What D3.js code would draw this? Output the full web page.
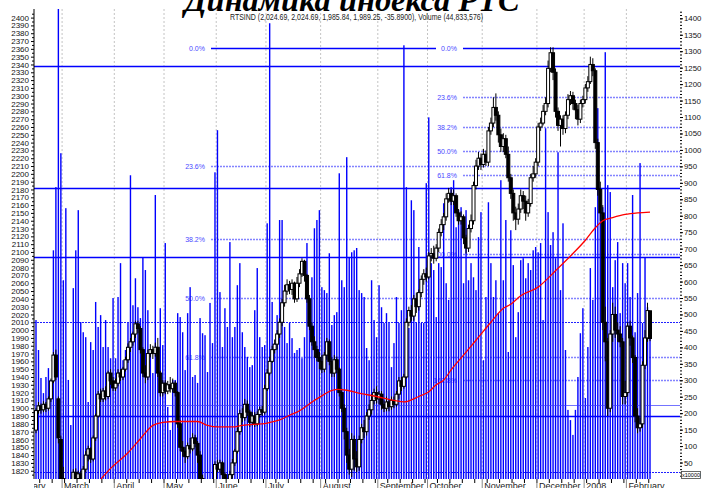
<!DOCTYPE html>
<html>
<head>
<meta charset="utf-8">
<script src="https://cdn.jsdelivr.net/npm/d3@7"></script>
<style>
  body { margin: 0; background: #fff; }
  svg { display: block; font-family: Arial, "Liberation Sans", sans-serif; }
</style>
</head>
<body>
<div class="layout"></div>
<script>
// daily RTSIND candles, Feb 2007 - Feb 2008
var opens = [
  1872,1897,1903,1898,1905,1900,1912,1935,1968,1912,
  1860,1810,1780,1760,1775,1790,1818,1810,1816,1805,
  1822,1840,1848,1835,1862,1890,1918,1912,1922,1915,
  1945,1935,1926,1932,1945,1940,1950,1962,1978,1985,
  1995,2008,2002,1975,1945,1940,1970,1975,1970,1978,
  1945,1920,1932,1922,1930,1925,1932,1920,1880,1850,
  1845,1838,1852,1848,1862,1855,1840,1810,1795,1790,
  1800,1795,1805,1828,1822,1830,1815,1800,1805,1815,
  1830,1845,1870,1893,1888,1905,1895,1882,1890,1880,
  1892,1898,1895,1925,1945,1960,1975,1982,1995,2010,
  2035,2050,2058,2052,2060,2040,2060,2072,2088,2070,
  2040,2005,1985,1975,1965,1960,1950,1968,1985,1960,
  1945,1962,1950,1920,1900,1870,1840,1822,1860,1835,
  1825,1860,1875,1870,1890,1898,1910,1920,1912,1918,
  1905,1900,1908,1902,1910,1905,1918,1935,1928,1940,
  2010,2025,2018,2040,2030,2048,2065,2072,2068,2095,
  2098,2092,2105,2125,2135,2145,2168,2175,2165,2172,
  2150,2140,2145,2118,2105,2130,2140,2185,2210,2220,
  2212,2225,2215,2255,2265,2285,2275,2250,2235,2245,
  2225,2195,2175,2150,2142,2155,2172,2165,2150,2162,
  2195,2200,2215,2260,2265,2280,2290,2335,2355,2330,
  2280,2262,2270,2258,2275,2295,2300,2290,2282,2270,
  2290,2295,2310,2318,2340,2332,2240,2180,2150,2010,
  1985,1900,1995,2020,2000,1995,1985,1915,1920,2005,
  1990,1965,1890,1875,1880,1955,1990,2024.69
];
var highs = [
  1900,1908,1906,1909,1908,1915,1938,1972,1975,1915,
  1865,1825,1790,1785,1800,1822,1823,1820,1820,1826,
  1845,1852,1850,1865,1893,1922,1925,1926,1928,1948,
  1950,1940,1938,1950,1950,1953,1966,1983,1990,1998,
  2012,2012,2005,1978,1955,1975,1982,1980,1984,1990,
  1948,1936,1936,1935,1940,1938,1935,1922,1885,1858,
  1850,1856,1862,1868,1866,1858,1845,1815,1800,1806,
  1805,1810,1832,1834,1834,1832,1818,1810,1820,1835,
  1848,1875,1898,1900,1912,1910,1898,1895,1895,1896,
  1902,1903,1930,1950,1966,1980,1988,2000,2015,2040,
  2058,2065,2063,2065,2062,2068,2078,2092,2090,2072,
  2045,2010,1992,1980,1972,1968,1972,1990,1988,1965,
  1968,1966,1952,1925,1905,1875,1848,1868,1865,1845,
  1865,1880,1885,1895,1905,1918,1925,1928,1922,1922,
  1910,1915,1912,1915,1915,1922,1940,1940,1944,2015,
  2030,2032,2045,2048,2052,2070,2078,2080,2100,2105,
  2108,2110,2130,2142,2150,2175,2182,2180,2180,2175,
  2155,2152,2148,2122,2135,2148,2190,2218,2228,2226,
  2232,2230,2260,2272,2298,2303,2280,2258,2252,2250,
  2235,2200,2180,2158,2162,2180,2178,2172,2168,2200,
  2210,2220,2265,2272,2288,2298,2345,2362,2362,2335,
  2285,2275,2275,2280,2302,2306,2305,2295,2288,2295,
  2300,2315,2325,2350,2348,2335,2245,2190,2160,2030,
  1990,2000,2035,2030,2010,2005,1990,1935,2010,2012,
  1993,1968,1900,1888,1960,2000,2035,2024.69
];
var lows = [
  1868,1893,1893,1895,1895,1897,1908,1932,1936,1855,
  1800,1770,1740,1750,1765,1785,1800,1802,1795,1800,
  1818,1832,1830,1832,1858,1888,1908,1908,1910,1912,
  1930,1922,1922,1928,1935,1936,1947,1958,1972,1980,
  1990,1996,1970,1940,1932,1936,1965,1963,1966,1940,
  1915,1915,1918,1918,1920,1920,1915,1875,1845,1838,
  1830,1835,1842,1845,1850,1830,1805,1788,1780,1785,
  1788,1790,1802,1818,1818,1808,1795,1792,1800,1810,
  1826,1842,1866,1882,1884,1890,1876,1878,1876,1877,
  1888,1890,1892,1922,1942,1958,1970,1975,1990,2005,
  2030,2045,2046,2045,2035,2036,2055,2068,2062,2035,
  2000,1980,1965,1960,1950,1945,1946,1962,1955,1940,
  1940,1945,1915,1895,1860,1830,1815,1812,1820,1818,
  1820,1855,1862,1865,1885,1892,1905,1906,1905,1898,
  1895,1896,1896,1898,1900,1902,1912,1922,1925,1938,
  2005,2012,2012,2022,2025,2042,2058,2062,2065,2088,
  2085,2088,2100,2120,2128,2140,2163,2160,2160,2145,
  2135,2135,2110,2098,2100,2125,2135,2180,2205,2205,
  2208,2210,2210,2250,2260,2268,2240,2228,2228,2220,
  2190,2168,2140,2128,2135,2150,2155,2140,2145,2158,
  2190,2195,2210,2255,2262,2275,2285,2330,2320,2272,
  2255,2235,2250,2252,2270,2288,2282,2270,2262,2265,
  2285,2290,2305,2315,2325,2232,2172,2140,2000,1960,
  1890,1895,1985,1990,1985,1978,1905,1905,1915,1980,
  1958,1882,1868,1870,1875,1950,1985,1985.84
];
var closes = [
  1897,1903,1898,1905,1900,1912,1935,1968,1940,1862,
  1810,1780,1760,1775,1790,1818,1810,1816,1805,1822,
  1840,1848,1835,1862,1890,1918,1912,1922,1915,1945,
  1935,1926,1932,1945,1940,1950,1962,1978,1985,1995,
  2008,2002,1975,1945,1940,1970,1975,1970,1978,1945,
  1920,1932,1922,1930,1925,1932,1920,1880,1850,1845,
  1838,1852,1848,1862,1855,1840,1810,1795,1790,1800,
  1795,1805,1828,1822,1830,1815,1800,1805,1815,1830,
  1845,1870,1893,1888,1905,1895,1882,1890,1880,1892,
  1898,1895,1925,1945,1960,1975,1982,1995,2010,2035,
  2050,2058,2052,2060,2040,2060,2072,2088,2070,2040,
  2005,1985,1975,1965,1960,1950,1968,1985,1960,1945,
  1962,1950,1920,1900,1870,1840,1822,1860,1835,1825,
  1860,1875,1870,1890,1898,1910,1920,1912,1918,1905,
  1900,1908,1902,1910,1905,1918,1935,1928,1940,2010,
  2025,2018,2040,2030,2048,2065,2072,2068,2095,2098,
  2092,2105,2125,2135,2145,2168,2175,2165,2172,2150,
  2140,2145,2118,2105,2130,2140,2185,2210,2220,2212,
  2225,2215,2255,2265,2285,2275,2250,2235,2245,2225,
  2195,2175,2150,2142,2155,2172,2165,2150,2162,2195,
  2200,2215,2260,2265,2280,2290,2335,2355,2330,2280,
  2262,2270,2258,2275,2295,2300,2290,2282,2270,2290,
  2295,2310,2318,2340,2332,2240,2180,2150,2010,1985,
  1900,1995,2020,2000,1995,1985,1915,1920,2005,1990,
  1965,1890,1875,1880,1955,1990,2025,1989.25
];
// volume, x10000
var volumes = [
  483,392,307,261,310,337,301,695,887,1430,990,604,823,301,164,580,695,817,477,446,
  431,234,416,392,538,462,498,401,483,401,367,550,367,553,656,361,392,474,923,528,
  610,522,489,674,635,513,392,322,863,401,519,407,717,219,149,301,301,504,492,446,
  331,504,583,310,316,
  292,489,443,437,325,535,413,932,1060,568,401,519,462,720,431,462,589,656,446,401,
  371,340,346,513,641,431,401,407,777,1385,538,413,498,787,787,462,413,474,428,383,
  392,398,367,431,717,474,613,762,787,817,583,574,565,686,468,498,507,929,604,583,
  978,674,689,
  695,702,574,565,553,398,361,604,483,431,589,522,474,504,474,340,413,553,474,513,
  1318,887,459,847,817,474,705,474,474,899,1099,656,635,492,656,644,838,595,544,887,
  908,765,817,826,595,817,604,656,613,574,735,811,361,553,841,656,553,604,504,908,
  604,787,
  386,756,650,431,507,665,671,610,656,635,695,705,689,717,483,1066,811,711,750,671,
  993,574,777,392,210,179,134,210,310,443,519,246,401,641,544,826,1127,869,826,1297,
  893,872,583,665,720,504,656,595,656,553,863,446,565,960,474,674,522,483
];
// red average line: day index and value
var maDays   = [22,26,30,37,42,47,51,56,65,69,73,79,83,93,98,102,105,113,121,125,129,137,144,148,
                154,158,161,164,167,172,177,183,188,191,195,202,209,216,221,225,228,232,237,242,247];
var maValues = [1795,1809,1823,1843,1861,1878,1882,1883,1883,1878,1876,1876,1878,1881,1885,1891,1895,1912,1924,1923,1920,1915,1910,1908,
                1915,1921,1930,1936,1949,1968,1987,2010,2028,2033,2044,2055,2076,2098,2115,2131,2140,2144,2148,2150,2151];

var monthNames  = ["February","March","April","May","June","July","August","September","October","November","December","2008","February"];
var monthStarts = [-11, 11, 32, 52, 73, 93, 115, 138, 158, 180, 202, 221, 238];

var fibHigh = 2360.6;
var fib1Low = 1722, fib2Low = 2098;
var fib1Levels = [0, 23.6, 38.2, 50, 61.8];
var fib2Levels = [0, 23.6, 38.2, 50, 61.8, 100, 161.8];

var solidLevels  = [2337.6, 2182, 2093.7, 1890];
var dottedLevels = [2010.7, 1818];
var lightLevels  = [1904];

var title = "Динамика индекса РТС";
var info = "RTSIND (2,024.69, 2,024.69, 1,985.84, 1,989.25, -35.8900), Volume (44,833,576)";

var W = 702, H = 488;
var plot = {left: 34, right: 680, top: 9, bottom: 479};
var N = closes.length;

var x = d3.scaleLinear().domain([0, N - 1]).range([36, 650]);
var y = d3.scaleLinear().domain([1809.4, 2411]).range([plot.bottom, plot.top]);
var yVol = d3.scaleLinear().domain([0, 1400]).range([plot.bottom, 18.3]);

var svg = d3.select(".layout").append("svg")
        .attr("width", W)
        .attr("height", H);

svg.append("rect").attr("width", W).attr("height", H).attr("fill", "#fff");

var defs = svg.append("defs");
defs.append("clipPath").attr("id", "plotclip")
    .append("rect")
        .attr("x", plot.left).attr("y", plot.top)
        .attr("width", plot.right - plot.left).attr("height", plot.bottom - plot.top);
defs.append("clipPath").attr("id", "xlabclip")
    .append("rect")
        .attr("x", plot.left).attr("y", plot.bottom)
        .attr("width", W - plot.left).attr("height", H - plot.bottom);

var body = svg.append("g").attr("clip-path", "url(#plotclip)");

// month grid
body.append("g").selectAll("line")
    .data(monthStarts.slice(1))
  .enter().append("line")
    .attr("x1", function(d) { return x(d - 0.5); })
    .attr("x2", function(d) { return x(d - 0.5); })
    .attr("y1", plot.top).attr("y2", plot.bottom)
    .attr("stroke", "#c4c4c4")
    .attr("stroke-dasharray", "2,2");

// fibonacci levels
function fibGroup(levels, low, labelRight, lineEnd0) {
    var g = body.append("g");
    levels.forEach(function(p) {
        var v = fibHigh - p / 100 * (fibHigh - low);
        var yy = Math.round(y(v)) + 0.5;
        g.append("line")
            .attr("x1", labelRight + 6)
            .attr("x2", p === 0 ? lineEnd0 : plot.right)
            .attr("y1", yy).attr("y2", yy)
            .attr("stroke", p === 0 ? "#0000ff" : "#5a5aff")
            .attr("stroke-width", p === 0 ? 1.4 : 1.5)
            .attr("stroke-dasharray", p === 0 ? null : "2,1")
            .attr("opacity", p === 0 ? 1 : 0.75);
        g.append("text")
            .attr("x", labelRight).attr("y", yy + 2.5)
            .attr("text-anchor", "end")
            .attr("font-size", "7px")
            .attr("fill", "#4a4aff")
            .text(d3.format(".1f")(p) + "%");
    });
}
fibGroup(fib1Levels, fib1Low, 205, 436);
fibGroup(fib2Levels, fib2Low, 457, plot.right);

body.append("g").selectAll("line")
    .data(dottedLevels)
  .enter().append("line")
    .attr("x1", plot.left).attr("x2", plot.right)
    .attr("y1", function(d) { return Math.round(y(d)) + 0.5; })
    .attr("y2", function(d) { return Math.round(y(d)) + 0.5; })
    .attr("stroke", "#2020ff")
    .attr("stroke-width", 1.2)
    .attr("stroke-dasharray", "2,1");

// volume
body.append("g").selectAll("rect")
    .data(volumes)
  .enter().append("rect")
    .attr("x", function(d, i) { return x(i) - 0.7; })
    .attr("width", 1.4)
    .attr("y", function(d) { return yVol(d); })
    .attr("height", function(d) { return plot.bottom - yVol(d); })
    .attr("fill", "#0000ff");

body.append("g").selectAll("line")
    .data(lightLevels)
  .enter().append("line")
    .attr("x1", plot.left).attr("x2", plot.right)
    .attr("y1", function(d) { return Math.round(y(d)) + 0.5; })
    .attr("y2", function(d) { return Math.round(y(d)) + 0.5; })
    .attr("stroke", "#3a3aff")
    .attr("stroke-width", 1.2)
    .attr("opacity", 0.7);

body.append("g").selectAll("line")
    .data(solidLevels)
  .enter().append("line")
    .attr("x1", plot.left).attr("x2", plot.right)
    .attr("y1", function(d) { return Math.round(y(d)) + 0.5; })
    .attr("y2", function(d) { return Math.round(y(d)) + 0.5; })
    .attr("stroke", "#0000ff")
    .attr("stroke-width", 1.4);

// candles
var candles = body.append("g");
closes.forEach(function(c, i) {
    var o = opens[i], cx = x(i);
    candles.append("line")
        .attr("x1", cx).attr("x2", cx)
        .attr("y1", y(highs[i])).attr("y2", y(lows[i]))
        .attr("stroke", "#000").attr("stroke-width", 1);
    var top = y(Math.max(o, c)), bot = y(Math.min(o, c));
    candles.append("rect")
        .attr("x", cx - 1.5).attr("width", 3)
        .attr("y", top).attr("height", Math.max(1, bot - top))
        .attr("fill", c >= o ? "#fff" : "#000")
        .attr("stroke", "#000").attr("stroke-width", 1);
});

// moving average
var ma = d3.line()
    .x(function(d, i) { return x(maDays[i]); })
    .y(function(d) { return y(d); })
    .curve(d3.curveMonotoneX);
body.append("path")
    .datum(maValues)
    .attr("d", ma)
    .attr("fill", "none")
    .attr("stroke", "#ff0000")
    .attr("stroke-width", 1.3);

// left price axis
var yAxis = d3.axisLeft(y).tickValues(d3.range(1820, 2401, 10)).tickSize(3).tickPadding(2).tickFormat(d3.format("d"));
var gy = svg.append("g").attr("transform", "translate(" + plot.left + ",0)").call(yAxis);
gy.select(".domain").attr("d", "M0," + plot.top + "V" + plot.bottom).attr("stroke", "#000");
gy.selectAll("text").attr("font-size", "8px").attr("fill", "#111");
svg.append("g").attr("transform", "translate(" + plot.left + ",0)")
    .call(d3.axisLeft(y).tickValues(d3.range(1815, 2410, 10)).tickSize(2).tickFormat(""))
    .select(".domain").remove();

// right volume axis
var vAxis = d3.axisRight(yVol).tickValues(d3.range(50, 1401, 50)).tickSize(3).tickPadding(1).tickFormat(d3.format("d"));
var gv = svg.append("g").attr("transform", "translate(" + plot.right + ",0)").call(vAxis);
gv.select(".domain").remove();
gv.selectAll("text").attr("font-size", "7.8px").attr("fill", "#111");
svg.append("g").attr("transform", "translate(" + plot.right + ",0)")
    .call(d3.axisRight(yVol).tickValues(d3.range(10, 1421, 10)).tickSize(2).tickFormat(""))
    .select(".domain").remove();

svg.append("rect")
    .attr("x", 681.5).attr("y", 471.5).attr("width", 19).attr("height", 7)
    .attr("fill", "#fff").attr("stroke", "#444").attr("stroke-width", 0.8);
svg.append("text")
    .attr("x", 691).attr("y", 477.3)
    .attr("text-anchor", "middle")
    .attr("font-size", "5.5px")
    .text("x10000");

// time axis
var gx = svg.append("g");
gx.selectAll(".wk")
    .data(d3.range(1.5, N, 5))
  .enter().append("line")
    .attr("x1", function(d) { return x(d); })
    .attr("x2", function(d) { return x(d); })
    .attr("y1", plot.bottom).attr("y2", plot.bottom + 4)
    .attr("stroke", "#000");
var gm = gx.append("g").attr("clip-path", "url(#xlabclip)");
gm.selectAll("line")
    .data(monthStarts)
  .enter().append("line")
    .attr("x1", function(d) { return x(d - 0.5); })
    .attr("x2", function(d) { return x(d - 0.5); })
    .attr("y1", plot.bottom).attr("y2", H)
    .attr("stroke", "#888");
gm.selectAll("text")
    .data(monthStarts)
  .enter().append("text")
    .attr("x", function(d) { return x(d - 0.5) + 2; })
    .attr("y", 489)
    .attr("font-size", "9px")
    .attr("fill", "#222")
    .text(function(d, i) { return monthNames[i]; });

// title and info line
svg.append("text")
    .attr("x", 352).attr("y", 11)
    .attr("text-anchor", "middle")
    .attr("font-family", "'Liberation Serif', 'Times New Roman', serif")
    .attr("font-size", "32px")
    .attr("font-weight", "bold")
    .attr("font-style", "italic")
    .attr("textLength", 335)
    .attr("lengthAdjust", "spacingAndGlyphs")
    .text(title);

svg.append("text")
    .attr("x", 230).attr("y", 19.5)
    .attr("font-size", "8.5px")
    .attr("fill", "#222")
    .attr("textLength", 253)
    .attr("lengthAdjust", "spacingAndGlyphs")
    .text(info);
</script>
</body>
</html>
